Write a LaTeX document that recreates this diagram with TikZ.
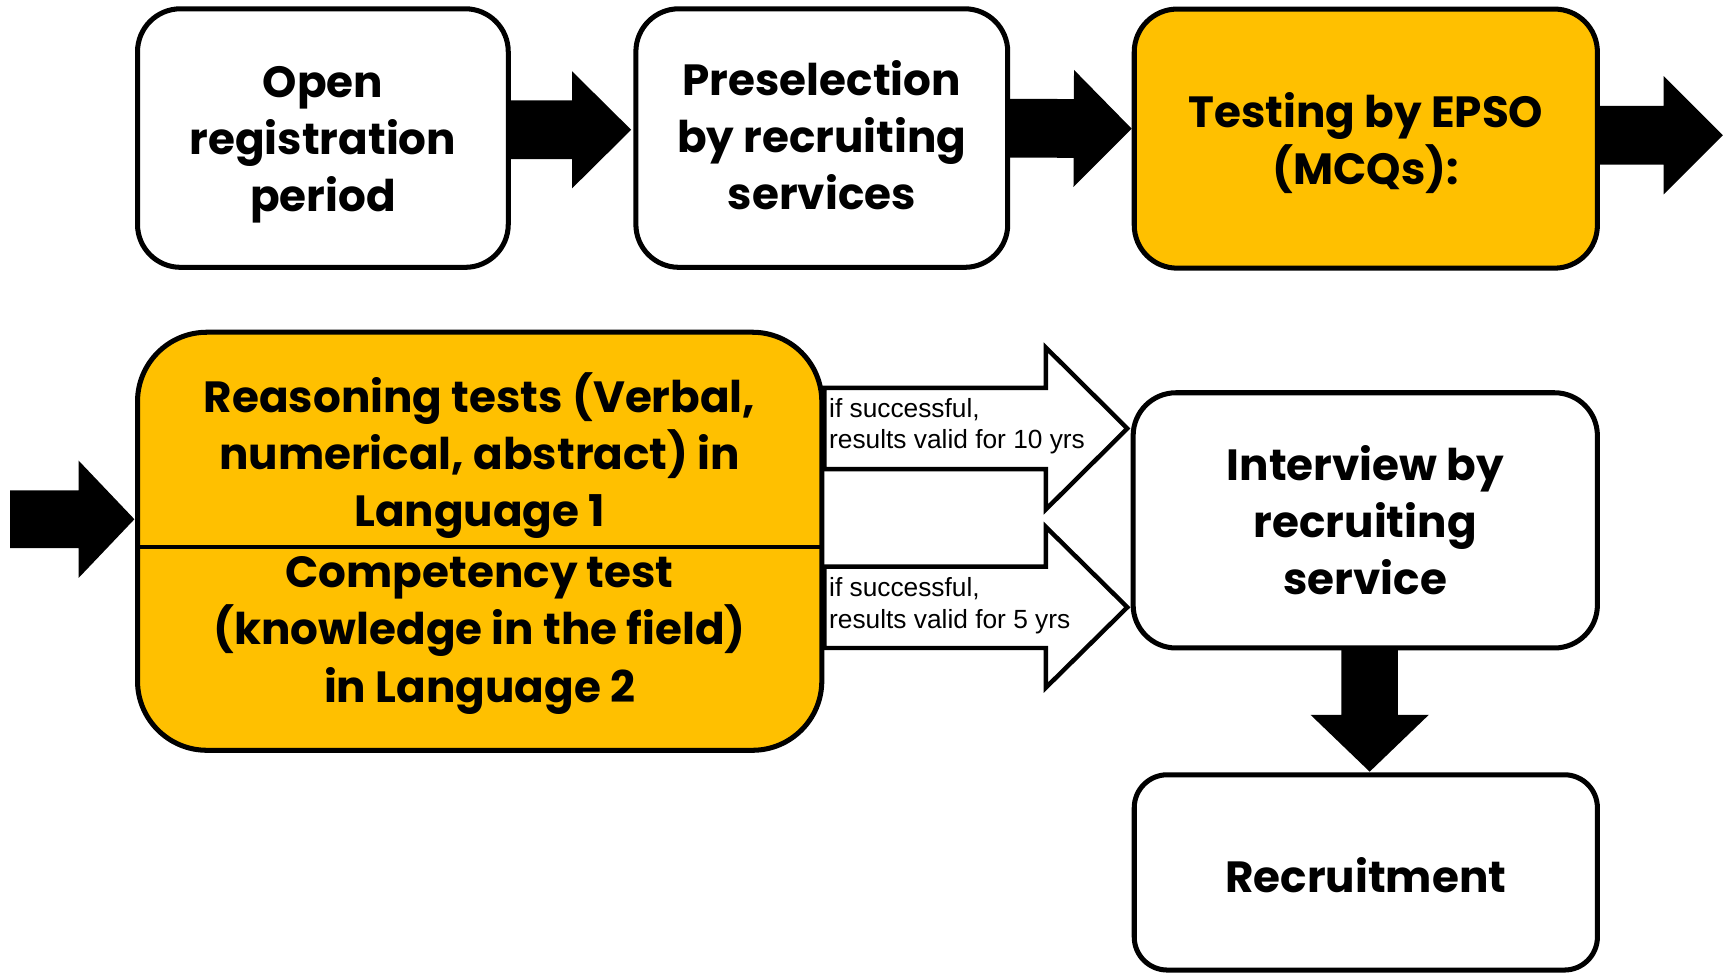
\documentclass[tikz,border=0pt]{standalone}
\usepackage{fontspec}
\setmainfont{Poppins}
\newfontfamily\notefont{Liberation Sans}
\usetikzlibrary{calc}
\definecolor{epsogold}{HTML}{FFC000}
\def\topgap{11.2pt}
\def\topstrut{\rule{0pt}{\topgap}}
\def\botstrut{\rule[-2.2pt]{0pt}{2.2pt}}
\def\blockarrow[#1](#2)(#3)(#4:#5:#6){%
	\coordinate (ah) at ($(#3)!#6!(#2)$);
	\draw[#1] ($(#2)!#4!90:(#3)$) -- ($(ah)!#4!90:(#3)$) -- ($(ah)!#5!90:(#3)$) -- (#3) -- ($(ah)!#5!-90:(#3)$) -- ($(ah)!#4!-90:(#3)$) -- ($(#2)!#4!-90:(#3)$) -- cycle;}
\tikzset{
	topgap/.code={\def\topgap{#1}},
	bodytext/.style={align=center, inner sep=0pt, font=\bfseries\fontsize{11.3}{14.8}\selectfont, execute at end node=\botstrut},
	stage/.style={bodytext, draw, line width=1.3pt, rounded corners=0.39cm},
	note/.style={anchor=west, align=left, inner sep=0pt, font=\notefont\fontsize{6.8}{8.2}\selectfont},
	fatarrow/.style={fill=black},
	hollowarrow/.style={draw, fill=white, line width=1.15pt},
}

\begin{document}
\begin{tikzpicture}
		%%%%% START %%%%%
		\useasboundingbox (0, 0) rectangle (15.68, -8.84);
		
		\node[stage, topgap=11.5pt, minimum width=3.37cm, minimum height=2.35cm] (open) at (2.935, -1.255) {\topstrut Open\\registration\\period};
		\node[stage, topgap=9.7pt, minimum width=3.38cm, minimum height=2.35cm] (presel) at (7.47, -1.255) {\topstrut Preselection\\by recruiting\\services};
		\node[stage, fill=epsogold, minimum width=4.21cm, minimum height=2.355cm] (testing) at (12.415, -1.26) {\topstrut Testing by EPSO\\(MCQs):};
		
		\node[stage, fill=epsogold, rounded corners=0.63cm, minimum width=6.22cm, minimum height=3.8cm] (tests) at (4.36, -4.92) {};
		\node[bodytext, topgap=12.1pt] (reason) at (4.36, -4.11) {\topstrut Reasoning tests (Verbal,\\numerical, abstract) in\\Language 1};
		\node[bodytext] (compet) at (4.36, -5.72) {\topstrut Competency test\\(knowledge in the field)\\in Language 2};
		\draw[line width=1pt] ($(tests.west)+(0, -0.05)$) -- ($(tests.east)+(0, -0.05)$);
		
		\node[stage, minimum width=4.22cm, minimum height=2.32cm] (interview) at (12.41, -4.73) {\topstrut Interview by\\recruiting\\service};
		\node[stage, topgap=12.6pt, rounded corners=0.3cm, minimum width=4.21cm, minimum height=1.775cm] (recruit) at (12.415, -7.93) {\topstrut Recruitment};
		
		% black arrows
		\coordinate (a1s) at ($(open.east)+(0, 0.075)$);
		\coordinate (a1e) at ($(presel.west)+(-0.03, 0.075)$);
		\blockarrow[fatarrow](a1s)(a1e)(0.26cm:0.515cm:0.52cm);
		\coordinate (a2s) at ($(presel.east)+(0, 0.09)$);
		\coordinate (a2e) at ($(testing.west)+(-0.01, 0.09)$);
		\blockarrow[fatarrow](a2s)(a2e)(0.26cm:0.515cm:0.51cm);
		\coordinate (a3s) at ($(testing.east)+(0, 0.03)$);
		\coordinate (exit) at (15.65, -1.23);
		\blockarrow[fatarrow](a3s)(exit)(0.26cm:0.52cm:0.52cm);
		\coordinate (entry) at (0.10, -4.72);
		\coordinate (a4e) at ($(tests.west)+(-0.015, 0.2)$);
		\blockarrow[fatarrow](entry)(a4e)(0.255cm:0.515cm:0.49cm);
		\coordinate (a5s) at ($(interview.south)+(0.04, 0)$);
		\coordinate (a5e) at ($(recruit.north)+(0.035, 0.015)$);
		\blockarrow[fatarrow](a5s)(a5e)(0.25cm:0.52cm:0.5cm);
		
		% hollow arrows
		\coordinate (h1s) at ($(tests.east)+(0, 1.025)$);
		\coordinate (h1e) at ($(h1s -| interview.west)+(-0.03, 0)$);
		\blockarrow[hollowarrow](h1s)(h1e)(0.37cm:0.735cm:0.74cm);
		\coordinate (h2s) at ($(tests.east)+(0, -0.6)$);
		\coordinate (h2e) at ($(h2s -| interview.west)+(-0.03, 0)$);
		\blockarrow[hollowarrow](h2s)(h2e)(0.37cm:0.73cm:0.74cm);
		
		\node[note] (valid10) at (7.53, -3.875) {if successful,\\results valid for 10 yrs};
		\node[note] (valid5) at (7.53, -5.505) {if successful,\\results valid for 5 yrs};
		
		%%%%% END %%%%%
	\end{tikzpicture}
\end{document}
